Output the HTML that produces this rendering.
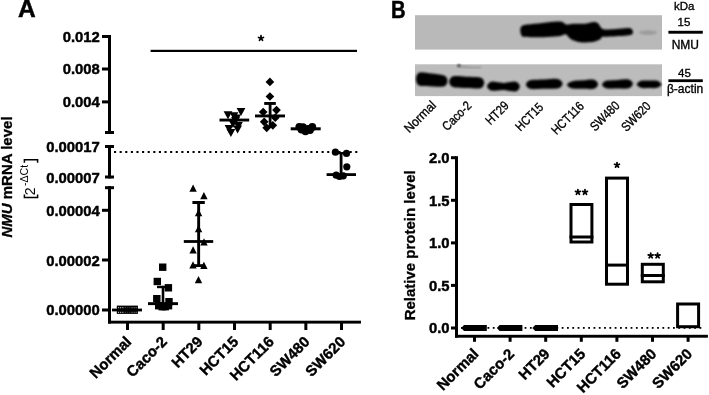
<!DOCTYPE html>
<html><head><meta charset="utf-8"><style>
html,body{margin:0;padding:0;background:#fff;}
svg{display:block;filter:grayscale(1);}
text{font-family:"Liberation Sans", sans-serif;}
</style></head><body>
<svg width="709" height="395" viewBox="0 0 709 395" font-family='"Liberation Sans", sans-serif'>
<rect width="709" height="395" fill="#fff"/>
<text x="18.00" y="17.40" font-size="24.5" font-weight="bold" text-anchor="start" fill="#000" stroke="#000" stroke-width="0.5" >A</text>
<rect x="108.00" y="35.00" width="3.00" height="99.00" fill="#000" />
<rect x="102.00" y="35.00" width="9.00" height="3.00" fill="#000" />
<rect x="102.00" y="67.50" width="6.00" height="3.00" fill="#000" />
<rect x="102.00" y="100.40" width="6.00" height="3.00" fill="#000" />
<rect x="105.00" y="131.00" width="9.00" height="3.00" fill="#000" />
<rect x="108.00" y="145.00" width="3.00" height="33.40" fill="#000" />
<rect x="105.00" y="145.00" width="9.00" height="3.00" fill="#000" />
<rect x="105.00" y="175.50" width="9.00" height="3.00" fill="#000" />
<rect x="108.00" y="186.20" width="3.00" height="137.30" fill="#000" />
<rect x="105.00" y="186.20" width="9.00" height="3.00" fill="#000" />
<rect x="102.00" y="208.80" width="6.00" height="3.00" fill="#000" />
<rect x="102.00" y="258.50" width="6.00" height="3.00" fill="#000" />
<rect x="102.00" y="308.50" width="6.00" height="3.00" fill="#000" />
<rect x="108.00" y="320.70" width="253.00" height="2.90" fill="#000" />
<rect x="126.00" y="323.00" width="3.00" height="7.00" fill="#000" />
<rect x="161.67" y="323.00" width="3.00" height="7.00" fill="#000" />
<rect x="197.34" y="323.00" width="3.00" height="7.00" fill="#000" />
<rect x="233.01" y="323.00" width="3.00" height="7.00" fill="#000" />
<rect x="268.68" y="323.00" width="3.00" height="7.00" fill="#000" />
<rect x="304.35" y="323.00" width="3.00" height="7.00" fill="#000" />
<rect x="340.02" y="323.00" width="3.00" height="7.00" fill="#000" />
<text x="99.80" y="41.90" font-size="15.4" font-weight="bold" text-anchor="end" fill="#000" textLength="37.15" lengthAdjust="spacingAndGlyphs" stroke="#000" stroke-width="0.45" >0.012</text>
<text x="99.80" y="74.45" font-size="15.4" font-weight="bold" text-anchor="end" fill="#000" textLength="37.15" lengthAdjust="spacingAndGlyphs" stroke="#000" stroke-width="0.45" >0.008</text>
<text x="99.80" y="107.35" font-size="15.4" font-weight="bold" text-anchor="end" fill="#000" textLength="37.15" lengthAdjust="spacingAndGlyphs" stroke="#000" stroke-width="0.45" >0.004</text>
<text x="99.80" y="151.85" font-size="15.4" font-weight="bold" text-anchor="end" fill="#000" textLength="53.67" lengthAdjust="spacingAndGlyphs" stroke="#000" stroke-width="0.45" >0.00017</text>
<text x="99.80" y="182.75" font-size="15.4" font-weight="bold" text-anchor="end" fill="#000" textLength="53.67" lengthAdjust="spacingAndGlyphs" stroke="#000" stroke-width="0.45" >0.00007</text>
<text x="99.80" y="216.15" font-size="15.4" font-weight="bold" text-anchor="end" fill="#000" textLength="53.67" lengthAdjust="spacingAndGlyphs" stroke="#000" stroke-width="0.45" >0.00004</text>
<text x="99.80" y="266.15" font-size="15.4" font-weight="bold" text-anchor="end" fill="#000" textLength="53.67" lengthAdjust="spacingAndGlyphs" stroke="#000" stroke-width="0.45" >0.00002</text>
<text x="99.80" y="315.35" font-size="15.4" font-weight="bold" text-anchor="end" fill="#000" textLength="53.67" lengthAdjust="spacingAndGlyphs" stroke="#000" stroke-width="0.45" >0.00000</text>
<text x="132.30" y="342.70" font-size="15" font-weight="bold" text-anchor="end" fill="#000" stroke="#000" stroke-width="0.4" transform="rotate(-45 132.30 342.70)" >Normal</text>
<text x="167.97" y="342.70" font-size="15" font-weight="bold" text-anchor="end" fill="#000" stroke="#000" stroke-width="0.4" transform="rotate(-45 167.97 342.70)" >Caco-2</text>
<text x="203.64" y="342.70" font-size="15" font-weight="bold" text-anchor="end" fill="#000" stroke="#000" stroke-width="0.4" transform="rotate(-45 203.64 342.70)" >HT29</text>
<text x="239.31" y="342.70" font-size="15" font-weight="bold" text-anchor="end" fill="#000" stroke="#000" stroke-width="0.4" transform="rotate(-45 239.31 342.70)" >HCT15</text>
<text x="274.98" y="342.70" font-size="15" font-weight="bold" text-anchor="end" fill="#000" stroke="#000" stroke-width="0.4" transform="rotate(-45 274.98 342.70)" >HCT116</text>
<text x="310.65" y="342.70" font-size="15" font-weight="bold" text-anchor="end" fill="#000" stroke="#000" stroke-width="0.4" transform="rotate(-45 310.65 342.70)" >SW480</text>
<text x="346.32" y="342.70" font-size="15" font-weight="bold" text-anchor="end" fill="#000" stroke="#000" stroke-width="0.4" transform="rotate(-45 346.32 342.70)" >SW620</text>
<g transform="translate(12.0 177) rotate(-90)"><text x="0" y="0" font-size="15" font-weight="bold" stroke="#000" stroke-width="0.3" text-anchor="middle"><tspan font-style="italic">NMU</tspan> mRNA level</text></g>
<g transform="translate(35 198.4) rotate(-90)">
<path d="M4.0 -10.6 H0.9 V2.6 H4.0" fill="none" stroke="#000" stroke-width="1.5"/>
<text x="3.1" y="0" font-size="14" font-weight="normal">2</text>
<text x="12.4" y="-7" font-size="11" font-weight="normal" textLength="21.2" lengthAdjust="spacingAndGlyphs">-ΔCt</text>
<path d="M35.6 -10.6 H38.7 V2.6 H35.6" fill="none" stroke="#000" stroke-width="1.5"/>
</g>
<rect x="150.60" y="49.80" width="206.40" height="2.20" fill="#000" />
<path d="M261.00 38.25 L261.00 35.70 M261.00 38.25 L263.43 37.46 M261.00 38.25 L262.50 40.31 M261.00 38.25 L259.50 40.31 M261.00 38.25 L258.57 37.46 " stroke="#000" stroke-width="1.75" stroke-linecap="round" fill="none"/>
<rect x="114.00" y="151.00" width="2.10" height="2.00" fill="#000" />
<rect x="119.61" y="151.00" width="2.10" height="2.00" fill="#000" />
<rect x="125.22" y="151.00" width="2.10" height="2.00" fill="#000" />
<rect x="130.83" y="151.00" width="2.10" height="2.00" fill="#000" />
<rect x="136.44" y="151.00" width="2.10" height="2.00" fill="#000" />
<rect x="142.05" y="151.00" width="2.10" height="2.00" fill="#000" />
<rect x="147.66" y="151.00" width="2.10" height="2.00" fill="#000" />
<rect x="153.27" y="151.00" width="2.10" height="2.00" fill="#000" />
<rect x="158.88" y="151.00" width="2.10" height="2.00" fill="#000" />
<rect x="164.49" y="151.00" width="2.10" height="2.00" fill="#000" />
<rect x="170.10" y="151.00" width="2.10" height="2.00" fill="#000" />
<rect x="175.71" y="151.00" width="2.10" height="2.00" fill="#000" />
<rect x="181.32" y="151.00" width="2.10" height="2.00" fill="#000" />
<rect x="186.93" y="151.00" width="2.10" height="2.00" fill="#000" />
<rect x="192.54" y="151.00" width="2.10" height="2.00" fill="#000" />
<rect x="198.15" y="151.00" width="2.10" height="2.00" fill="#000" />
<rect x="203.76" y="151.00" width="2.10" height="2.00" fill="#000" />
<rect x="209.37" y="151.00" width="2.10" height="2.00" fill="#000" />
<rect x="214.98" y="151.00" width="2.10" height="2.00" fill="#000" />
<rect x="220.59" y="151.00" width="2.10" height="2.00" fill="#000" />
<rect x="226.20" y="151.00" width="2.10" height="2.00" fill="#000" />
<rect x="231.81" y="151.00" width="2.10" height="2.00" fill="#000" />
<rect x="237.42" y="151.00" width="2.10" height="2.00" fill="#000" />
<rect x="243.03" y="151.00" width="2.10" height="2.00" fill="#000" />
<rect x="248.64" y="151.00" width="2.10" height="2.00" fill="#000" />
<rect x="254.25" y="151.00" width="2.10" height="2.00" fill="#000" />
<rect x="259.86" y="151.00" width="2.10" height="2.00" fill="#000" />
<rect x="265.47" y="151.00" width="2.10" height="2.00" fill="#000" />
<rect x="271.08" y="151.00" width="2.10" height="2.00" fill="#000" />
<rect x="276.69" y="151.00" width="2.10" height="2.00" fill="#000" />
<rect x="282.30" y="151.00" width="2.10" height="2.00" fill="#000" />
<rect x="287.91" y="151.00" width="2.10" height="2.00" fill="#000" />
<rect x="293.52" y="151.00" width="2.10" height="2.00" fill="#000" />
<rect x="299.13" y="151.00" width="2.10" height="2.00" fill="#000" />
<rect x="304.74" y="151.00" width="2.10" height="2.00" fill="#000" />
<rect x="310.35" y="151.00" width="2.10" height="2.00" fill="#000" />
<rect x="315.96" y="151.00" width="2.10" height="2.00" fill="#000" />
<rect x="321.57" y="151.00" width="2.10" height="2.00" fill="#000" />
<rect x="327.18" y="151.00" width="2.10" height="2.00" fill="#000" />
<rect x="332.79" y="151.00" width="2.10" height="2.00" fill="#000" />
<rect x="338.40" y="151.00" width="2.10" height="2.00" fill="#000" />
<rect x="344.01" y="151.00" width="2.10" height="2.00" fill="#000" />
<rect x="349.62" y="151.00" width="2.10" height="2.00" fill="#000" />
<rect x="355.23" y="151.00" width="2.10" height="2.00" fill="#000" />
<rect x="116.80" y="305.60" width="21.10" height="8.30" fill="#000" />
<rect x="118.00" y="307.30" width="1.10" height="1.00" fill="#fff" />
<rect x="120.10" y="307.30" width="1.10" height="1.00" fill="#fff" />
<rect x="122.30" y="307.30" width="1.10" height="1.00" fill="#eee" />
<rect x="124.90" y="307.30" width="1.10" height="1.00" fill="#555" />
<rect x="127.00" y="307.30" width="1.10" height="1.00" fill="#444" />
<rect x="129.30" y="307.30" width="1.10" height="1.00" fill="#555" />
<rect x="131.50" y="307.30" width="1.10" height="1.00" fill="#999" />
<rect x="133.60" y="307.30" width="1.10" height="1.00" fill="#999" />
<rect x="135.60" y="307.30" width="1.10" height="1.00" fill="#aaa" />
<rect x="118.00" y="311.70" width="1.10" height="1.00" fill="#fff" />
<rect x="120.10" y="311.70" width="1.10" height="1.00" fill="#fff" />
<rect x="122.30" y="311.70" width="1.10" height="1.00" fill="#eee" />
<rect x="124.90" y="311.70" width="1.10" height="1.00" fill="#555" />
<rect x="127.00" y="311.70" width="1.10" height="1.00" fill="#444" />
<rect x="129.30" y="311.70" width="1.10" height="1.00" fill="#555" />
<rect x="131.50" y="311.70" width="1.10" height="1.00" fill="#999" />
<rect x="133.60" y="311.70" width="1.10" height="1.00" fill="#999" />
<rect x="135.60" y="311.70" width="1.10" height="1.00" fill="#aaa" />
<rect x="112.00" y="308.60" width="30.00" height="2.80" fill="#000" />
<rect x="159.00" y="263.50" width="7.40" height="7.40" fill="#000" />
<rect x="153.60" y="277.80" width="7.40" height="7.40" fill="#000" />
<rect x="164.70" y="284.10" width="7.40" height="7.40" fill="#000" />
<rect x="153.10" y="295.00" width="7.40" height="7.40" fill="#000" />
<rect x="165.30" y="298.00" width="7.40" height="7.40" fill="#000" />
<rect x="155.00" y="302.00" width="7.40" height="7.40" fill="#000" />
<rect x="158.50" y="303.00" width="7.40" height="7.40" fill="#000" />
<rect x="161.50" y="303.00" width="7.40" height="7.40" fill="#000" />
<rect x="164.80" y="302.00" width="7.40" height="7.40" fill="#000" />
<rect x="161.70" y="285.80" width="2.60" height="18.00" fill="#000" />
<rect x="157.00" y="285.80" width="12.00" height="2.40" fill="#000" />
<rect x="148.00" y="302.20" width="30.00" height="2.90" fill="#000" />
<path d="M189.40 191.70 L193.10 184.50 L196.80 191.70 Z"/>
<path d="M200.20 199.20 L203.90 192.00 L207.60 199.20 Z"/>
<path d="M194.90 216.20 L198.60 209.00 L202.30 216.20 Z"/>
<path d="M194.90 232.20 L198.60 225.00 L202.30 232.20 Z"/>
<path d="M200.30 245.40 L204.00 238.20 L207.70 245.40 Z"/>
<path d="M189.40 253.50 L193.10 246.30 L196.80 253.50 Z"/>
<path d="M189.30 268.50 L193.00 261.30 L196.70 268.50 Z"/>
<path d="M200.20 269.00 L203.90 261.80 L207.60 269.00 Z"/>
<path d="M194.80 283.20 L198.50 276.00 L202.20 283.20 Z"/>
<rect x="197.20" y="201.00" width="2.90" height="65.80" fill="#000" />
<rect x="192.40" y="201.00" width="12.40" height="3.00" fill="#000" />
<rect x="193.20" y="264.20" width="11.10" height="2.80" fill="#000" />
<rect x="183.80" y="240.10" width="29.40" height="2.80" fill="#000" />
<path d="M236.60 108.10 L241.00 116.10 L245.40 108.10 Z"/>
<path d="M223.60 111.30 L228.00 119.30 L232.40 111.30 Z"/>
<path d="M229.60 112.20 L234.00 120.20 L238.40 112.20 Z"/>
<path d="M224.60 125.00 L229.00 133.00 L233.40 125.00 Z"/>
<path d="M226.50 129.00 L230.90 137.00 L235.30 129.00 Z"/>
<path d="M234.00 122.00 L238.40 130.00 L242.80 122.00 Z"/>
<path d="M233.20 125.60 L237.60 133.60 L242.00 125.60 Z"/>
<path d="M231.10 117.00 L235.50 125.00 L239.90 117.00 Z"/>
<path d="M232.10 114.50 L236.50 122.50 L240.90 114.50 Z"/>
<path d="M228.60 120.00 L233.00 128.00 L237.40 120.00 Z"/>
<rect x="219.50" y="118.60" width="29.70" height="2.90" fill="#000" />
<rect x="268.70" y="102.00" width="2.80" height="26.00" fill="#000" />
<rect x="264.20" y="102.00" width="11.60" height="2.90" fill="#000" />
<path d="M269.90 77.55 L274.25 81.90 L269.90 86.25 L265.55 81.90 Z"/>
<path d="M269.90 92.15 L274.25 96.50 L269.90 100.85 L265.55 96.50 Z"/>
<path d="M263.20 107.65 L267.55 112.00 L263.20 116.35 L258.85 112.00 Z"/>
<path d="M276.50 105.75 L280.85 110.10 L276.50 114.45 L272.15 110.10 Z"/>
<path d="M275.30 113.35 L279.65 117.70 L275.30 122.05 L270.95 117.70 Z"/>
<path d="M264.20 117.45 L268.55 121.80 L264.20 126.15 L259.85 121.80 Z"/>
<path d="M272.80 120.95 L277.15 125.30 L272.80 129.65 L268.45 125.30 Z"/>
<path d="M266.70 123.45 L271.05 127.80 L266.70 132.15 L262.35 127.80 Z"/>
<rect x="255.00" y="114.50" width="30.00" height="2.90" fill="#000" />
<circle cx="299.3" cy="126.8" r="3.9"/>
<circle cx="303" cy="127.2" r="3.9"/>
<circle cx="308" cy="129" r="3.9"/>
<circle cx="312.3" cy="127" r="3.9"/>
<circle cx="305.5" cy="131.3" r="3.9"/>
<circle cx="301.5" cy="129.5" r="3.9"/>
<circle cx="310" cy="130" r="3.9"/>
<rect x="290.70" y="127.30" width="30.00" height="3.00" fill="#000" />
<rect x="339.70" y="152.00" width="2.80" height="23.00" fill="#000" />
<rect x="337.50" y="152.00" width="7.00" height="2.20" fill="#000" />
<circle cx="335.4" cy="152.2" r="3.6"/>
<circle cx="346.5" cy="153.4" r="3.6"/>
<circle cx="346.8" cy="166.8" r="3.6"/>
<circle cx="336.2" cy="175.2" r="3.6"/>
<circle cx="343.3" cy="175.8" r="3.6"/>
<circle cx="339.5" cy="176.5" r="3.6"/>
<rect x="326.60" y="173.20" width="29.40" height="2.80" fill="#000" />
<text x="391.00" y="18.00" font-size="24.5" font-weight="bold" text-anchor="start" fill="#000" textLength="14.6" lengthAdjust="spacingAndGlyphs" stroke="#000" stroke-width="0.5" >B</text>
<defs><filter id="bl" x="-20%" y="-50%" width="140%" height="200%"><feGaussianBlur stdDeviation="1.1"/></filter><filter id="bl2" x="-20%" y="-50%" width="140%" height="200%"><feGaussianBlur stdDeviation="0.8"/></filter></defs>
<rect x="415.00" y="15.20" width="247.00" height="34.40" fill="#b9b9b9" />
<rect x="415.00" y="64.30" width="247.00" height="31.80" fill="#bcbcbc" />
<path d="M520.30 30.50 C520.23 28.85 520.45 27.28 521.60 26.30 C522.75 25.32 523.73 25.15 527.20 24.60 C530.67 24.05 537.33 23.50 542.40 23.00 C547.47 22.50 554.17 21.72 557.60 21.60 C561.03 21.48 561.58 21.83 563.00 22.30 C564.42 22.77 564.40 24.17 566.10 24.40 C567.80 24.63 570.00 23.82 573.20 23.70 C576.40 23.58 581.93 23.98 585.30 23.70 C588.67 23.42 591.25 22.05 593.40 22.00 C595.55 21.95 596.90 22.43 598.20 23.40 C599.50 24.37 600.07 26.78 601.20 27.80 C602.33 28.82 602.53 29.30 605.00 29.50 C607.47 29.70 612.28 29.27 616.00 29.00 C619.72 28.73 624.77 27.97 627.30 27.90 C629.83 27.83 630.27 27.95 631.20 28.60 C632.13 29.25 632.80 30.80 632.90 31.80 C633.00 32.80 632.73 33.98 631.80 34.60 C630.87 35.22 629.93 35.22 627.30 35.50 C624.67 35.78 619.72 36.08 616.00 36.30 C612.28 36.52 607.37 36.68 605.00 36.80 C602.63 36.92 602.60 36.58 601.80 37.00 C601.00 37.42 601.50 38.52 600.20 39.30 C598.90 40.08 596.37 41.18 594.00 41.70 C591.63 42.22 588.28 42.30 586.00 42.40 C583.72 42.50 582.47 42.65 580.30 42.30 C578.13 41.95 574.88 41.12 573.00 40.30 C571.12 39.48 570.17 38.38 569.00 37.40 C567.83 36.42 567.17 34.73 566.00 34.40 C564.83 34.07 563.40 35.08 562.00 35.40 C560.60 35.72 560.87 35.98 557.60 36.30 C554.33 36.62 547.33 37.20 542.40 37.30 C537.47 37.40 531.40 37.08 528.00 36.90 C524.60 36.72 523.28 37.27 522.00 36.20 C520.72 35.13 520.37 32.15 520.30 30.50 Z" fill="#050505" filter="url(#bl)"/>
<ellipse cx="648" cy="32.6" rx="9.2" ry="2.1" fill="#999" filter="url(#bl)"/>
<path d="M416.00 79.10 C416.00 77.40 416.58 75.15 417.50 74.00 C418.42 72.85 419.12 72.27 421.50 72.20 C423.88 72.13 428.33 73.13 431.75 73.60 C435.17 74.07 439.62 74.47 442.00 75.00 C444.38 75.53 445.08 75.82 446.00 76.80 C446.92 77.78 447.50 79.53 447.50 80.90 C447.50 82.27 446.92 84.02 446.00 85.00 C445.08 85.98 444.38 86.57 442.00 86.80 C439.62 87.03 435.17 86.53 431.75 86.40 C428.33 86.27 423.88 86.37 421.50 86.00 C419.12 85.63 418.42 85.35 417.50 84.20 C416.58 83.05 416.00 80.80 416.00 79.10 Z" fill="#050505" filter="url(#bl2)"/>
<path d="M449.20 81.75 C449.20 80.47 449.78 78.84 450.70 77.90 C451.62 76.96 452.03 76.31 454.70 76.10 C457.37 75.89 462.70 76.47 466.70 76.65 C470.70 76.83 476.03 76.81 478.70 77.20 C481.37 77.59 481.78 78.06 482.70 79.00 C483.62 79.94 484.20 81.57 484.20 82.85 C484.20 84.13 483.62 85.76 482.70 86.70 C481.78 87.64 481.37 88.29 478.70 88.50 C476.03 88.71 470.70 88.13 466.70 87.95 C462.70 87.77 457.37 87.79 454.70 87.40 C452.03 87.01 451.62 86.54 450.70 85.60 C449.78 84.66 449.20 83.03 449.20 81.75 Z" fill="#050505" filter="url(#bl2)"/>
<path d="M487.10 86.20 C487.10 85.27 487.68 84.17 488.60 83.40 C489.52 82.63 490.12 81.68 492.60 81.60 C495.08 81.52 499.83 82.93 503.45 82.90 C507.07 82.87 511.82 81.35 514.30 81.40 C516.77 81.45 517.38 82.35 518.30 83.20 C519.22 84.05 519.80 85.40 519.80 86.50 C519.80 87.60 519.22 88.95 518.30 89.80 C517.38 90.65 516.77 91.57 514.30 91.60 C511.82 91.63 507.07 90.13 503.45 90.00 C499.83 89.87 495.08 90.97 492.60 90.80 C490.12 90.63 489.52 89.77 488.60 89.00 C487.68 88.23 487.10 87.13 487.10 86.20 Z" fill="#050505" filter="url(#bl2)"/>
<path d="M526.00 84.55 C526.00 83.63 526.58 82.56 527.50 81.80 C528.42 81.04 528.71 80.39 531.50 80.00 C534.29 79.61 540.00 79.63 544.25 79.45 C548.50 79.27 554.21 78.69 557.00 78.90 C559.79 79.11 560.08 79.90 561.00 80.70 C561.92 81.50 562.50 82.70 562.50 83.70 C562.50 84.70 561.92 85.90 561.00 86.70 C560.08 87.50 559.79 88.15 557.00 88.50 C554.21 88.85 548.50 88.70 544.25 88.80 C540.00 88.90 534.29 89.35 531.50 89.10 C528.71 88.85 528.42 88.06 527.50 87.30 C526.58 86.54 526.00 85.47 526.00 84.55 Z" fill="#050505" filter="url(#bl2)"/>
<path d="M567.00 84.85 C567.00 84.23 567.58 83.61 568.50 83.00 C569.42 82.39 570.17 81.64 572.50 81.20 C574.83 80.76 579.17 80.63 582.50 80.35 C585.83 80.07 590.17 79.34 592.50 79.50 C594.83 79.66 595.58 80.50 596.50 81.30 C597.42 82.10 598.00 83.30 598.00 84.30 C598.00 85.30 597.42 86.50 596.50 87.30 C595.58 88.10 594.83 88.85 592.50 89.10 C590.17 89.35 585.83 88.90 582.50 88.80 C579.17 88.70 574.83 88.85 572.50 88.50 C570.17 88.15 569.42 87.31 568.50 86.70 C567.58 86.09 567.00 85.47 567.00 84.85 Z" fill="#050505" filter="url(#bl2)"/>
<path d="M602.00 84.55 C602.00 83.83 602.58 83.06 603.50 82.40 C604.42 81.74 605.18 81.02 607.50 80.60 C609.82 80.18 614.10 80.13 617.40 79.90 C620.70 79.67 624.98 79.02 627.30 79.20 C629.62 79.38 630.38 80.22 631.30 81.00 C632.22 81.78 632.80 82.90 632.80 83.85 C632.80 84.80 632.22 85.92 631.30 86.70 C630.38 87.48 629.62 88.20 627.30 88.50 C624.98 88.80 620.70 88.50 617.40 88.50 C614.10 88.50 609.82 88.80 607.50 88.50 C605.18 88.20 604.42 87.36 603.50 86.70 C602.58 86.04 602.00 85.27 602.00 84.55 Z" fill="#050505" filter="url(#bl2)"/>
<path d="M636.70 84.30 C636.70 83.67 637.28 83.02 638.20 82.40 C639.12 81.78 640.38 80.90 642.20 80.60 C644.02 80.30 646.80 80.60 649.10 80.60 C651.40 80.60 654.18 80.30 656.00 80.60 C657.82 80.90 659.08 81.78 660.00 82.40 C660.92 83.02 661.50 83.67 661.50 84.30 C661.50 84.93 660.92 85.58 660.00 86.20 C659.08 86.82 657.82 87.70 656.00 88.00 C654.18 88.30 651.40 88.00 649.10 88.00 C646.80 88.00 644.02 88.30 642.20 88.00 C640.38 87.70 639.12 86.82 638.20 86.20 C637.28 85.58 636.70 84.93 636.70 84.30 Z" fill="#050505" filter="url(#bl2)"/>
<ellipse cx="459" cy="65.8" rx="1.8" ry="1.3" fill="#222" filter="url(#bl2)"/>
<path d="M460 66.5 C466 67.5 474 67.8 481 67.5" stroke="#8a8a8a" stroke-width="1.4" fill="none" filter="url(#bl2)"/>
<text x="684.30" y="10.30" font-size="11.5" font-weight="normal" text-anchor="middle" fill="#000" stroke="#000" stroke-width="0.35" >kDa</text>
<text x="684.00" y="26.10" font-size="11.5" font-weight="normal" text-anchor="middle" fill="#000" stroke="#000" stroke-width="0.35" >15</text>
<rect x="668.40" y="30.80" width="34.40" height="2.90" fill="#000" />
<text x="685.30" y="48.50" font-size="12" font-weight="normal" text-anchor="middle" fill="#000" stroke="#000" stroke-width="0.35" >NMU</text>
<text x="684.50" y="76.60" font-size="11.5" font-weight="normal" text-anchor="middle" fill="#000" stroke="#000" stroke-width="0.35" >45</text>
<rect x="668.40" y="79.30" width="34.40" height="2.80" fill="#000" />
<text x="685.10" y="93.40" font-size="12" font-weight="normal" text-anchor="middle" fill="#000" stroke="#000" stroke-width="0.35" >β-actin</text>
<text x="436.80" y="106.00" font-size="12.8" font-weight="normal" text-anchor="end" fill="#000" stroke="#000" stroke-width="0.35" textLength="39.0" lengthAdjust="spacingAndGlyphs" transform="rotate(-45 436.80 106.00)" >Normal</text>
<text x="472.30" y="106.50" font-size="12.8" font-weight="normal" text-anchor="end" fill="#000" stroke="#000" stroke-width="0.35" textLength="35.3" lengthAdjust="spacingAndGlyphs" transform="rotate(-45 472.30 106.50)" >Caco-2</text>
<text x="509.60" y="106.50" font-size="12.8" font-weight="normal" text-anchor="end" fill="#000" stroke="#000" stroke-width="0.35" textLength="27.0" lengthAdjust="spacingAndGlyphs" transform="rotate(-45 509.60 106.50)" >HT29</text>
<text x="544.20" y="108.00" font-size="12.8" font-weight="normal" text-anchor="end" fill="#000" stroke="#000" stroke-width="0.35" textLength="33.5" lengthAdjust="spacingAndGlyphs" transform="rotate(-45 544.20 108.00)" >HCT15</text>
<text x="584.80" y="107.00" font-size="12.8" font-weight="normal" text-anchor="end" fill="#000" stroke="#000" stroke-width="0.35" textLength="40.0" lengthAdjust="spacingAndGlyphs" transform="rotate(-45 584.80 107.00)" >HCT116</text>
<text x="620.40" y="106.50" font-size="12.8" font-weight="normal" text-anchor="end" fill="#000" stroke="#000" stroke-width="0.35" textLength="35.6" lengthAdjust="spacingAndGlyphs" transform="rotate(-45 620.40 106.50)" >SW480</text>
<text x="651.60" y="107.00" font-size="12.8" font-weight="normal" text-anchor="end" fill="#000" stroke="#000" stroke-width="0.35" textLength="35.6" lengthAdjust="spacingAndGlyphs" transform="rotate(-45 651.60 107.00)" >SW620</text>
<rect x="455.00" y="156.20" width="3.00" height="181.40" fill="#000" />
<rect x="451.00" y="156.20" width="5.00" height="3.00" fill="#000" />
<rect x="451.00" y="198.80" width="5.00" height="3.00" fill="#000" />
<rect x="451.00" y="241.40" width="5.00" height="3.00" fill="#000" />
<rect x="451.00" y="283.90" width="5.00" height="3.00" fill="#000" />
<rect x="451.00" y="326.50" width="5.00" height="3.00" fill="#000" />
<text x="449.60" y="163.25" font-size="15.4" font-weight="bold" text-anchor="end" fill="#000" textLength="20.64" lengthAdjust="spacingAndGlyphs" stroke="#000" stroke-width="0.45" >2.0</text>
<text x="449.60" y="205.85" font-size="15.4" font-weight="bold" text-anchor="end" fill="#000" textLength="20.64" lengthAdjust="spacingAndGlyphs" stroke="#000" stroke-width="0.45" >1.5</text>
<text x="449.60" y="248.35" font-size="15.4" font-weight="bold" text-anchor="end" fill="#000" textLength="20.64" lengthAdjust="spacingAndGlyphs" stroke="#000" stroke-width="0.45" >1.0</text>
<text x="449.60" y="290.85" font-size="15.4" font-weight="bold" text-anchor="end" fill="#000" textLength="20.64" lengthAdjust="spacingAndGlyphs" stroke="#000" stroke-width="0.45" >0.5</text>
<text x="449.60" y="333.35" font-size="15.4" font-weight="bold" text-anchor="end" fill="#000" textLength="20.64" lengthAdjust="spacingAndGlyphs" stroke="#000" stroke-width="0.45" >0.0</text>
<rect x="455.00" y="334.80" width="252.90" height="2.90" fill="#000" />
<rect x="473.00" y="337.00" width="3.00" height="4.80" fill="#000" />
<rect x="508.60" y="337.00" width="3.00" height="4.80" fill="#000" />
<rect x="544.20" y="337.00" width="3.00" height="4.80" fill="#000" />
<rect x="579.80" y="337.00" width="3.00" height="4.80" fill="#000" />
<rect x="615.40" y="337.00" width="3.00" height="4.80" fill="#000" />
<rect x="651.00" y="337.00" width="3.00" height="4.80" fill="#000" />
<rect x="686.60" y="337.00" width="3.00" height="4.80" fill="#000" />
<text x="479.50" y="354.80" font-size="15" font-weight="bold" text-anchor="end" fill="#000" stroke="#000" stroke-width="0.4" transform="rotate(-45 479.50 354.80)" >Normal</text>
<text x="515.10" y="354.80" font-size="15" font-weight="bold" text-anchor="end" fill="#000" stroke="#000" stroke-width="0.4" transform="rotate(-45 515.10 354.80)" >Caco-2</text>
<text x="550.70" y="354.80" font-size="15" font-weight="bold" text-anchor="end" fill="#000" stroke="#000" stroke-width="0.4" transform="rotate(-45 550.70 354.80)" >HT29</text>
<text x="586.30" y="354.80" font-size="15" font-weight="bold" text-anchor="end" fill="#000" stroke="#000" stroke-width="0.4" transform="rotate(-45 586.30 354.80)" >HCT15</text>
<text x="621.90" y="354.80" font-size="15" font-weight="bold" text-anchor="end" fill="#000" stroke="#000" stroke-width="0.4" transform="rotate(-45 621.90 354.80)" >HCT116</text>
<text x="657.50" y="354.80" font-size="15" font-weight="bold" text-anchor="end" fill="#000" stroke="#000" stroke-width="0.4" transform="rotate(-45 657.50 354.80)" >SW480</text>
<text x="693.10" y="354.80" font-size="15" font-weight="bold" text-anchor="end" fill="#000" stroke="#000" stroke-width="0.4" transform="rotate(-45 693.10 354.80)" >SW620</text>
<g transform="translate(414.6 245.3) rotate(-90)"><text x="0" y="0" font-size="15" font-weight="bold" stroke="#000" stroke-width="0.3" text-anchor="middle">Relative protein level</text></g>
<rect x="461.00" y="327.00" width="1.80" height="1.80" fill="#000" />
<rect x="466.30" y="327.00" width="1.80" height="1.80" fill="#000" />
<rect x="471.60" y="327.00" width="1.80" height="1.80" fill="#000" />
<rect x="476.90" y="327.00" width="1.80" height="1.80" fill="#000" />
<rect x="482.20" y="327.00" width="1.80" height="1.80" fill="#000" />
<rect x="487.50" y="327.00" width="1.80" height="1.80" fill="#000" />
<rect x="492.80" y="327.00" width="1.80" height="1.80" fill="#000" />
<rect x="498.10" y="327.00" width="1.80" height="1.80" fill="#000" />
<rect x="503.40" y="327.00" width="1.80" height="1.80" fill="#000" />
<rect x="508.70" y="327.00" width="1.80" height="1.80" fill="#000" />
<rect x="514.00" y="327.00" width="1.80" height="1.80" fill="#000" />
<rect x="519.30" y="327.00" width="1.80" height="1.80" fill="#000" />
<rect x="524.60" y="327.00" width="1.80" height="1.80" fill="#000" />
<rect x="529.90" y="327.00" width="1.80" height="1.80" fill="#000" />
<rect x="535.20" y="327.00" width="1.80" height="1.80" fill="#000" />
<rect x="540.50" y="327.00" width="1.80" height="1.80" fill="#000" />
<rect x="545.80" y="327.00" width="1.80" height="1.80" fill="#000" />
<rect x="551.10" y="327.00" width="1.80" height="1.80" fill="#000" />
<rect x="556.40" y="327.00" width="1.80" height="1.80" fill="#000" />
<rect x="561.70" y="327.00" width="1.80" height="1.80" fill="#000" />
<rect x="567.00" y="327.00" width="1.80" height="1.80" fill="#000" />
<rect x="572.30" y="327.00" width="1.80" height="1.80" fill="#000" />
<rect x="577.60" y="327.00" width="1.80" height="1.80" fill="#000" />
<rect x="582.90" y="327.00" width="1.80" height="1.80" fill="#000" />
<rect x="588.20" y="327.00" width="1.80" height="1.80" fill="#000" />
<rect x="593.50" y="327.00" width="1.80" height="1.80" fill="#000" />
<rect x="598.80" y="327.00" width="1.80" height="1.80" fill="#000" />
<rect x="604.10" y="327.00" width="1.80" height="1.80" fill="#000" />
<rect x="609.40" y="327.00" width="1.80" height="1.80" fill="#000" />
<rect x="614.70" y="327.00" width="1.80" height="1.80" fill="#000" />
<rect x="620.00" y="327.00" width="1.80" height="1.80" fill="#000" />
<rect x="625.30" y="327.00" width="1.80" height="1.80" fill="#000" />
<rect x="630.60" y="327.00" width="1.80" height="1.80" fill="#000" />
<rect x="635.90" y="327.00" width="1.80" height="1.80" fill="#000" />
<rect x="641.20" y="327.00" width="1.80" height="1.80" fill="#000" />
<rect x="646.50" y="327.00" width="1.80" height="1.80" fill="#000" />
<rect x="651.80" y="327.00" width="1.80" height="1.80" fill="#000" />
<rect x="657.10" y="327.00" width="1.80" height="1.80" fill="#000" />
<rect x="662.40" y="327.00" width="1.80" height="1.80" fill="#000" />
<rect x="667.70" y="327.00" width="1.80" height="1.80" fill="#000" />
<rect x="673.00" y="327.00" width="1.80" height="1.80" fill="#000" />
<rect x="678.30" y="327.00" width="1.80" height="1.80" fill="#000" />
<rect x="683.60" y="327.00" width="1.80" height="1.80" fill="#000" />
<rect x="688.90" y="327.00" width="1.80" height="1.80" fill="#000" />
<rect x="694.20" y="327.00" width="1.80" height="1.80" fill="#000" />
<rect x="699.50" y="327.00" width="1.80" height="1.80" fill="#000" />
<path d="M461.20 328 L464.00 325 H486.80 V331 H464.00 Z"/>
<path d="M496.80 328 L499.60 325 H522.40 V331 H499.60 Z"/>
<path d="M532.40 328 L535.20 325 H558.00 V331 H535.20 Z"/>
<rect x="571.00" y="204.50" width="20.90" height="37.50" fill="none" stroke="#000" stroke-width="3"/>
<rect x="569.50" y="235.50" width="23.90" height="3.00" fill="#000" />
<rect x="606.50" y="178.10" width="21.00" height="106.10" fill="none" stroke="#000" stroke-width="3"/>
<rect x="605.00" y="263.60" width="24.00" height="3.00" fill="#000" />
<rect x="642.30" y="264.30" width="21.00" height="17.50" fill="none" stroke="#000" stroke-width="3"/>
<rect x="640.80" y="274.00" width="24.00" height="3.00" fill="#000" />
<rect x="677.60" y="304.00" width="21.00" height="22.70" fill="none" stroke="#000" stroke-width="3"/>
<path d="M577.90 192.15 L577.90 189.60 M577.90 192.15 L580.33 191.36 M577.90 192.15 L579.40 194.21 M577.90 192.15 L576.40 194.21 M577.90 192.15 L575.47 191.36 " stroke="#000" stroke-width="1.75" stroke-linecap="round" fill="none"/>
<path d="M585.00 192.15 L585.00 189.60 M585.00 192.15 L587.43 191.36 M585.00 192.15 L586.50 194.21 M585.00 192.15 L583.50 194.21 M585.00 192.15 L582.57 191.36 " stroke="#000" stroke-width="1.75" stroke-linecap="round" fill="none"/>
<path d="M617.00 165.05 L617.00 162.50 M617.00 165.05 L619.43 164.26 M617.00 165.05 L618.50 167.11 M617.00 165.05 L615.50 167.11 M617.00 165.05 L614.57 164.26 " stroke="#000" stroke-width="1.75" stroke-linecap="round" fill="none"/>
<path d="M650.70 255.65 L650.70 253.10 M650.70 255.65 L653.13 254.86 M650.70 255.65 L652.20 257.71 M650.70 255.65 L649.20 257.71 M650.70 255.65 L648.27 254.86 " stroke="#000" stroke-width="1.75" stroke-linecap="round" fill="none"/>
<path d="M657.60 255.65 L657.60 253.10 M657.60 255.65 L660.03 254.86 M657.60 255.65 L659.10 257.71 M657.60 255.65 L656.10 257.71 M657.60 255.65 L655.17 254.86 " stroke="#000" stroke-width="1.75" stroke-linecap="round" fill="none"/>
</svg>
</body></html>
